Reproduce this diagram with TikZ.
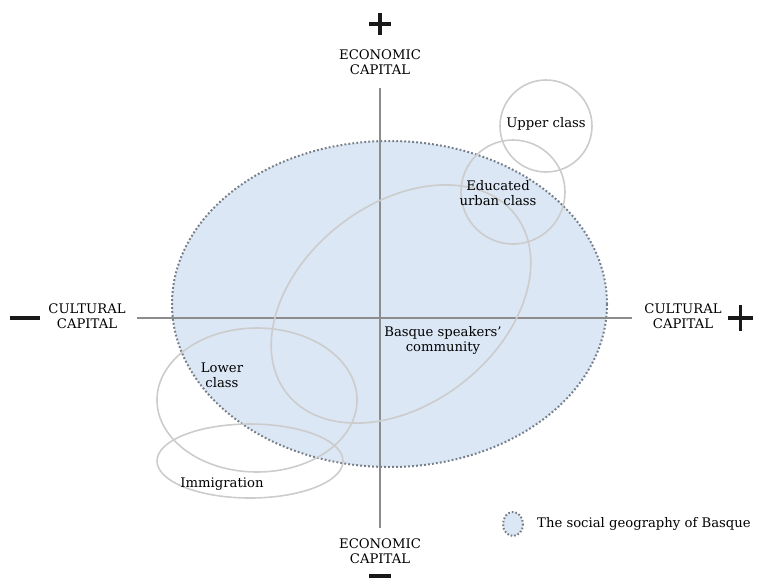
\documentclass[tikz,border=0pt]{standalone}
\usepackage{fontspec}
\setmainfont{DejaVu Serif}
\definecolor{geofill}{RGB}{219,231,245}
\definecolor{geodot}{RGB}{118,126,136}
\begin{document}
\begin{tikzpicture}[x=1pt,y=-1pt,
  axis/.style={draw=black!45,line width=1.4pt},
  grp/.style={draw=black!20,line width=1.6pt},
  lbl/.style={font=\fontsize{13.2}{15}\selectfont,align=center,text=black,inner sep=1pt},
  sign/.style={line width=3.4pt,black!90},
  geo/.style={fill=geofill,draw=geodot,line width=2pt,dash pattern=on 1.8pt off 2.2pt}]
\useasboundingbox (0,0) rectangle (757,581);
% big social geography ellipse
\path[geo] (389.5,304) ellipse [x radius=217.5, y radius=163];
% axes
\coordinate (vt) at (380,88);
\coordinate (vb) at (380,528);
\coordinate (hl) at (137,318);
\coordinate (hr) at (632,318);
\draw[axis] (vt) -- (vb);
\draw[axis] (hl) -- (hr);
% group ellipses
\draw[grp,rotate around={38:(401,304)}] (401,304) ellipse [x radius=145, y radius=100];
\draw[grp] (546,126) circle [radius=46];
\draw[grp] (513,192) circle [radius=52];
\draw[grp] (257,400) ellipse [x radius=100, y radius=72];
\draw[grp] (250,461) ellipse [x radius=93, y radius=37];
% labels
\node[lbl] (upper) at (546,124) {Upper class};
\node[lbl] (edu) at (498,193) {Educated\\urban class};
\node[lbl] (basque) at (443,340) {Basque speakers'\\community};
\node[lbl] (lower) at (222,375) {Lower\\class};
\node[lbl] (immi) at (222,484) {Immigration};
% axis labels
\node[lbl] (ectop) at (380,62) {ECONOMIC\\CAPITAL};
\node[lbl] (ecbot) at (380,551) {ECONOMIC\\CAPITAL};
\node[lbl] (culleft) at (87,316) {CULTURAL\\CAPITAL};
\node[lbl] (culright) at (683,316) {CULTURAL\\CAPITAL};
% signs
\draw[sign] (369,24) -- (391,24);
\draw[sign] (380,13) -- (380,35);
\draw[sign] (369,576) -- (391,576);
\draw[sign] (10,318) -- (40,318);
\draw[sign] (728,318) -- (753,318);
\draw[sign] (740.5,305) -- (740.5,331);
% legend
\path[geo,dash pattern=on 1.6pt off 2pt] (513,524) ellipse [x radius=10, y radius=12];
\node[lbl,anchor=west] (leg) at (536,524) {The social geography of Basque};
\end{tikzpicture}
\end{document}
